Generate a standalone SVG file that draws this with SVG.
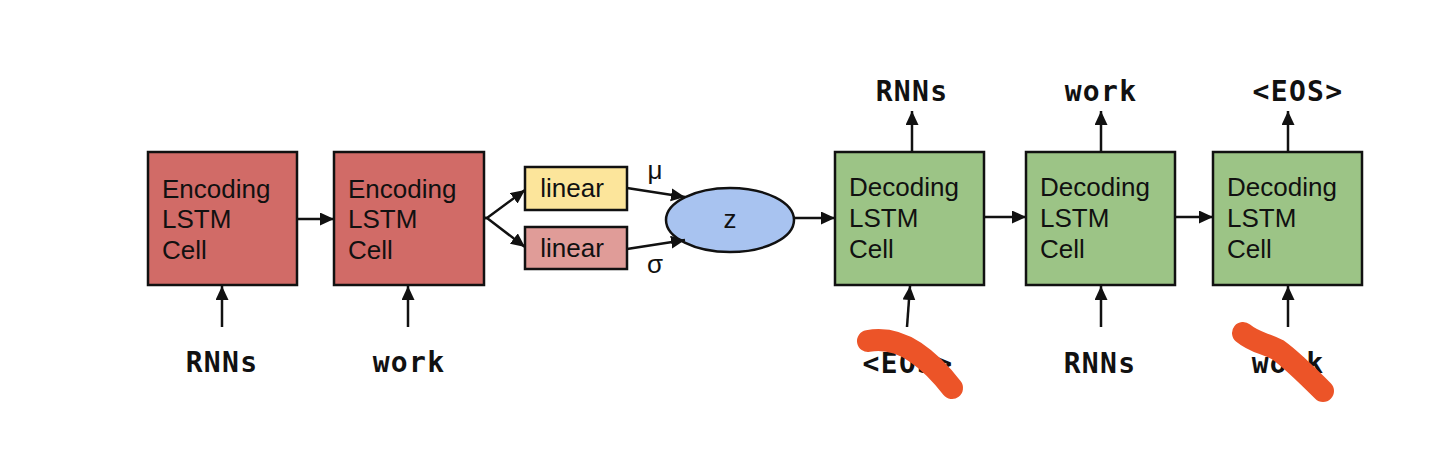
<svg xmlns="http://www.w3.org/2000/svg" width="1434" height="464" viewBox="0 0 1434 464">
<style>
.box{stroke:#111;stroke-width:2.5}
.enc{fill:#D16B67}
.dec{fill:#9CC486}
.t{font-family:"Liberation Sans",Arial,sans-serif;font-size:26px;fill:#111}
.w{font-family:"DejaVu Sans Mono",monospace;font-weight:bold;font-size:28px;fill:#111;text-anchor:middle;letter-spacing:1.3px}
.c{stroke:#111;stroke-width:2.5;fill:none;marker-end:url(#ah)}
.mark{stroke:#EC5428;stroke-width:22;fill:none;stroke-linecap:round;stroke-linejoin:round}
</style>
<defs>
<marker id="ah" markerUnits="userSpaceOnUse" markerWidth="15" markerHeight="14" refX="14" refY="6.5" orient="auto">
<path d="M0,0 L14,6.5 L0,13 z" fill="#111"/>
</marker>
</defs>
<rect width="1434" height="464" fill="#fff"/>
<g id="enc1"><rect class="box enc" x="148" y="152" width="149" height="133"/>
<text class="t" x="162" y="198">Encoding</text><text class="t" x="162" y="228">LSTM</text><text class="t" x="162" y="259">Cell</text></g>
<g id="enc2"><rect class="box enc" x="334" y="152" width="150" height="133"/>
<text class="t" x="348" y="198">Encoding</text><text class="t" x="348" y="228">LSTM</text><text class="t" x="348" y="259">Cell</text></g>
<g id="linear-mu"><rect class="box" fill="#FCE59B" x="525" y="167" width="102" height="43"/>
<text class="t" x="572" y="197" text-anchor="middle" font-size="25">linear</text></g>
<g id="linear-sigma"><rect class="box" fill="#E09C98" x="525" y="227" width="102" height="42"/>
<text class="t" x="572" y="257" text-anchor="middle" font-size="25">linear</text></g>
<g id="z"><ellipse class="box" fill="#A8C3F0" cx="730" cy="220" rx="64" ry="32"/>
<text class="t" x="730" y="228" text-anchor="middle" font-size="22">z</text></g>
<g id="dec1"><rect class="box dec" x="835" y="152" width="149" height="133"/>
<text class="t" x="849" y="196">Decoding</text><text class="t" x="849" y="227">LSTM</text><text class="t" x="849" y="258">Cell</text></g>
<g id="dec2"><rect class="box dec" x="1026" y="152" width="149" height="133"/>
<text class="t" x="1040" y="196">Decoding</text><text class="t" x="1040" y="227">LSTM</text><text class="t" x="1040" y="258">Cell</text></g>
<g id="dec3"><rect class="box dec" x="1213" y="152" width="149" height="133"/>
<text class="t" x="1227" y="196">Decoding</text><text class="t" x="1227" y="227">LSTM</text><text class="t" x="1227" y="258">Cell</text></g>
<g id="connectors">
<line class="c" x1="222" y1="327" x2="222" y2="286"/>
<line class="c" x1="408" y1="327" x2="408" y2="286"/>
<line class="c" x1="297" y1="219" x2="334" y2="219"/>
<polyline class="c" points="484,218 487,218 525,190"/>
<polyline class="c" points="484,218 487,218 525,247"/>
<line class="c" x1="627" y1="188" x2="685" y2="197"/>
<line class="c" x1="627" y1="249" x2="685" y2="240"/>
<line class="c" x1="794" y1="218" x2="835" y2="218"/>
<line class="c" x1="984" y1="217" x2="1026" y2="217"/>
<line class="c" x1="1175" y1="217" x2="1213" y2="217"/>
<line class="c" x1="912" y1="152" x2="912" y2="111"/>
<line class="c" x1="1101" y1="152" x2="1101" y2="111"/>
<line class="c" x1="1288" y1="152" x2="1288" y2="111"/>
<line class="c" x1="907" y1="327" x2="910" y2="286"/>
<line class="c" x1="1101" y1="327" x2="1101" y2="286"/>
<line class="c" x1="1288" y1="327" x2="1288" y2="286"/>
</g>
<g id="labels">
<text class="t" x="655" y="179" text-anchor="middle" font-size="22">μ</text>
<text class="t" x="655" y="273" text-anchor="middle" font-size="22">σ</text>
<text class="w" x="222" y="372">RNNs</text>
<text class="w" x="409" y="372">work</text>
<text class="w" x="912" y="101">RNNs</text>
<text class="w" x="1101" y="101">work</text>
<text class="w" x="1298" y="101">&lt;EOS&gt;</text>
<text class="w" x="908" y="373">&lt;EOS&gt;</text>
<text class="w" x="1100" y="373">RNNs</text>
<text class="w" x="1288" y="373">work</text>
</g>
<g id="scribbles">
<path class="mark" d="M868,341 C885,338 900,342 915,352 C930,362 942,375 952,388"/>
<path class="mark" d="M1243,333 C1255,343 1265,343 1278,350 C1292,360 1310,378 1323,391"/>
</g>
</svg>
